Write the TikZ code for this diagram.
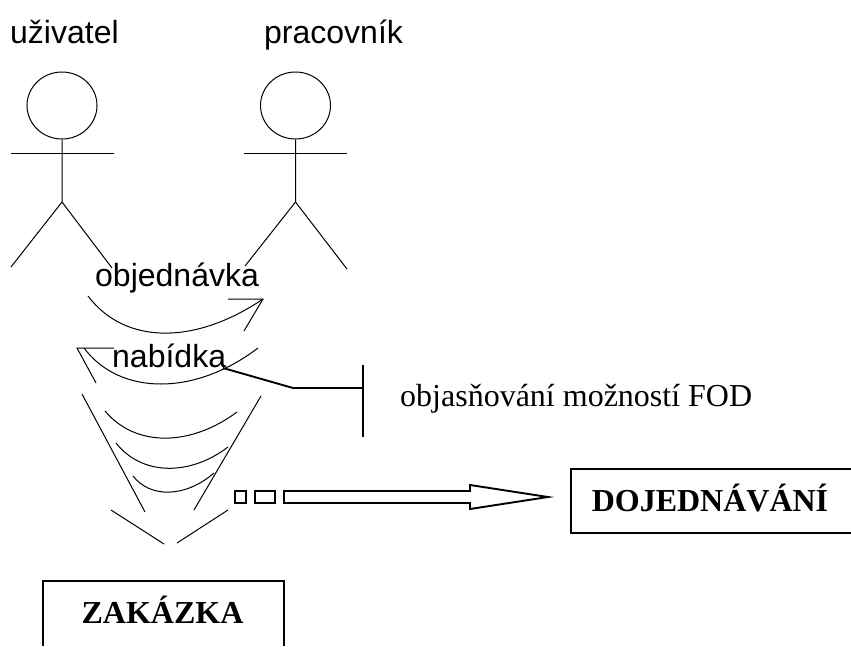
\documentclass[tikz,border=0pt]{standalone}
\usepackage{fontspec}
\usetikzlibrary{shapes.geometric}
\setmainfont{Liberation Serif}
\newfontfamily\arialfont{Liberation Sans}
\tikzset{
  thin line/.style={draw=black,line width=1pt},
  thick line/.style={draw=black,line width=1.9pt},
  head/.style={thin line,ellipse,minimum width=70pt,minimum height=67pt,inner sep=0pt},
  sans label/.style={inner sep=0pt,font=\arialfont\fontsize{32}{36}\selectfont},
  serif label/.style={inner sep=0pt,font=\fontsize{32}{36}\selectfont},
  bold label/.style={inner sep=0pt,font=\bfseries\fontsize{32}{36}\selectfont}
}
\begin{document}
\begin{tikzpicture}[x=1pt,y=-1pt]
\useasboundingbox (0,0) rectangle (851,646);
% actors
\node[sans label,anchor=base west] (u) at (10,43) {uživatel};
\node[sans label,anchor=base west] (p) at (264,43) {pracovník};
\node[head] (h1) at (62,105.5) {};
\node[head] (h2) at (295.5,105.5) {};
\coordinate (n1) at (62,202);
\coordinate (n2) at (295.5,202);
\draw[thin line] (h1.south) -- (n1) -- (11,267);
\draw[thin line] (n1) -- (112,268);
\draw[thin line] (11,153) -- (114,153);
\draw[thin line] (h2.south) -- (n2) -- (245,266);
\draw[thin line] (n2) -- (347,269);
\draw[thin line] (244,153) -- (347,153);
% arcs
\node[sans label,anchor=base west] (obj) at (95,286) {objednávka};
\node[sans label,anchor=base west] (nab) at (112,367) {nabídka};
\draw[thin line] (88,296) .. controls (125,345) and (195,345) .. (263,299);
\draw[thin line] (228,299) -- (263,299) -- (244,331);
\draw[thin line] (84,348) .. controls (120,396) and (195,396) .. (258,348);
\draw[thin line] (114,348) -- (77,348) -- (96,383);
\draw[thin line] (82,394) -- (145,512);
\draw[thin line] (261,396) -- (194,510);
\draw[thin line] (105,411) .. controls (135,447) and (190,447) .. (237,412);
\draw[thin line] (116,443) .. controls (142,476) and (190,476) .. (228,447);
\draw[thin line] (133,476) .. controls (150,498) and (185,498) .. (214,473);
\draw[thin line] (111,510) -- (164,544);
\draw[thin line] (228,510) -- (177,543);
% note
\coordinate (t) at (363,388);
\draw[thick line] (223,368) -- (293,388) -- (t);
\draw[thick line] (363,365) -- (363,437);
\node[serif label,anchor=base west] (note) at (400,406) {objasňování možností FOD};
% arrow
\draw[thick line] (235,491) rectangle (246,503);
\draw[thick line] (255,491) rectangle (275,503);
\draw[thick line,line join=miter] (284,491) -- (470,491) -- (470,485) -- (548,497) -- (470,509) -- (470,503) -- (284,503) -- cycle;
% boxes
\draw[thick line] (851,469) -- (571,469) -- (571,533) -- (851,533);
\node[bold label,anchor=base] (dojt) at (710,511) {DOJEDNÁVÁNÍ};
\draw[thick line] (43,646) -- (43,581) -- (284,581) -- (284,646);
\node[bold label,anchor=base] (zak) at (162.5,623) {ZAKÁZKA};
\end{tikzpicture}
\end{document}
